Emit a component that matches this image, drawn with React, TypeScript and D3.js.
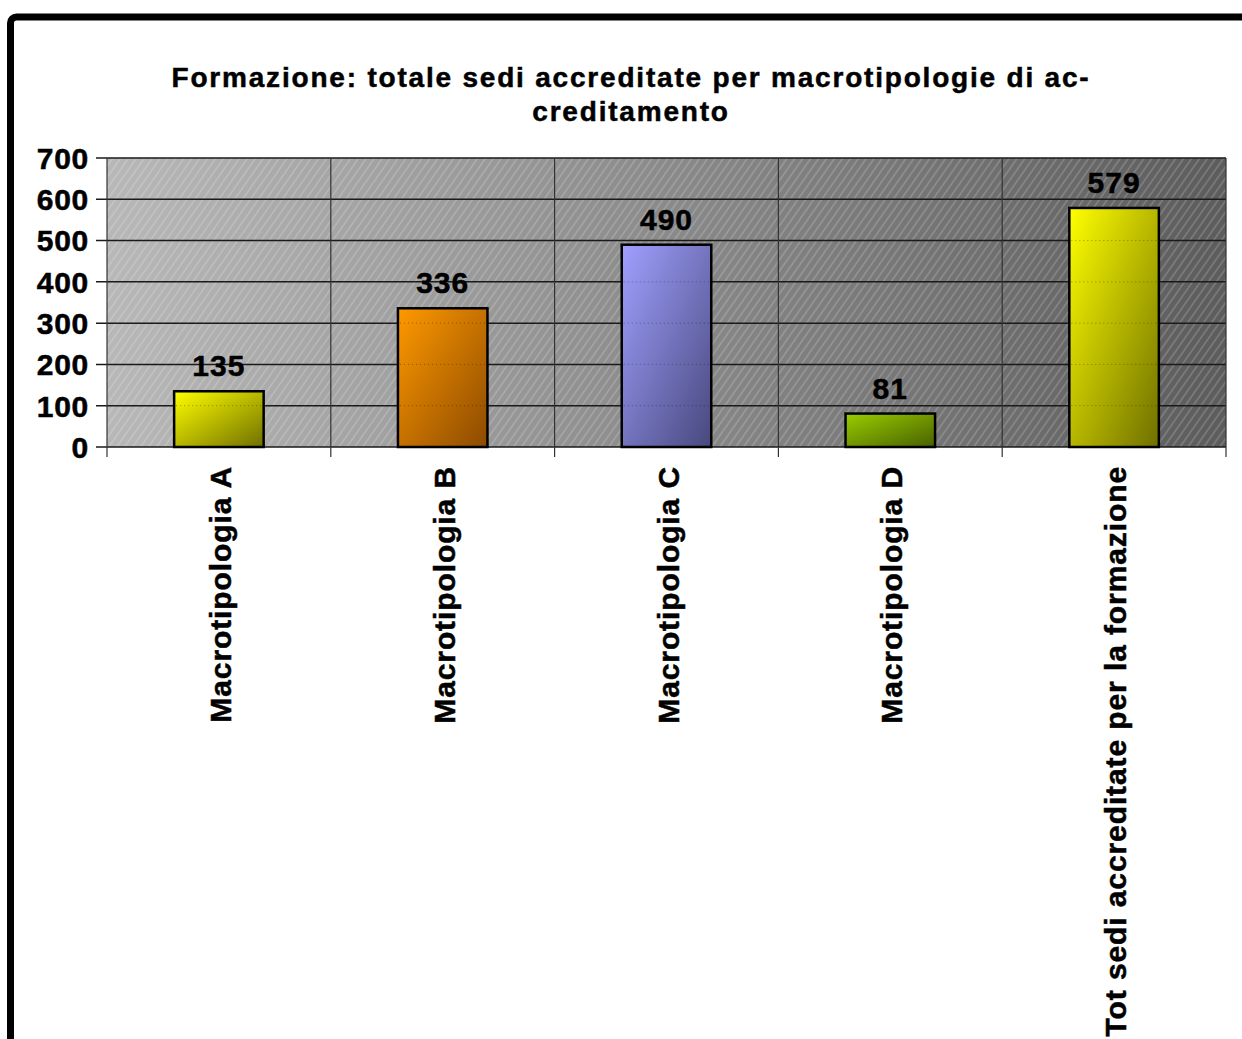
import * as d3 from 'd3';
import React from 'react';

const categories = [
    'Macrotipologia A',
    'Macrotipologia B',
    'Macrotipologia C',
    'Macrotipologia D',
    'Tot sedi accreditate per la formazione',
];
const values = [135, 336, 490, 81, 579];
const yTicks = [0, 100, 200, 300, 400, 500, 600, 700];
const titleLines = [
    'Formazione: totale sedi accreditate per macrotipologie di ac-',
    'creditamento',
];
// light / dark ends of each bar gradient
const barColours = [
    ['#ffff00', '#6f6f00'],
    ['#ff9900', '#8c4a00'],
    ['#a0a0ff', '#48487e'],
    ['#9acd00', '#486000'],
    ['#ffff00', '#6f6f00'],
];

const W = 1242;
const H = 1039;
const font = '"Liberation Sans", Arial, sans-serif';

const App = () => {
    const left = 107;
    const right = 1226;
    const top = 158;
    const bottom = 447;

    const x = d3.scaleBand<string>().domain(categories).range([left, right]).paddingInner(0.6).paddingOuter(0.3);
    const y = d3.scaleLinear().domain([0, 700]).range([bottom, top]);
    const step = x.step();
    const bounds = d3.range(categories.length + 1).map(i => left + i * step);

    // bold text, slightly thickened to match the heavier original rendering
    const txt = { fontWeight: 'bold', stroke: '#000000', strokeWidth: 0.5 } as const;

    return (
        <svg width={W} height={H} style={{ position: 'absolute', left: 0, top: 0 }} fontFamily={font}>
            <defs>
                <linearGradient id="plotBg" x1="0" y1="0" x2="1" y2="0">
                    <stop offset="0" stopColor="#b8b8b8" />
                    <stop offset="1" stopColor="#5c5c5c" />
                </linearGradient>
                <pattern id="hatch" width={6.5} height={10} patternUnits="userSpaceOnUse" patternTransform="rotate(35)">
                    <line x1={1} y1={0} x2={1} y2={10} stroke="#ffffff" strokeOpacity={0.3} strokeWidth={1} />
                </pattern>
                {barColours.map((c, i) => (
                    <linearGradient key={i} id={`bar${i}`} x1="0" y1="0" x2="1" y2="1">
                        <stop offset="0" stopColor={c[0]} />
                        <stop offset="1" stopColor={c[1]} />
                    </linearGradient>
                ))}
            </defs>

            {/* outer frame */}
            <rect x={10.5} y={17} width={1400} height={1200} rx={6} fill="#ffffff" stroke="#000000" strokeWidth={7} />

            {titleLines.map((t, i) => (
                <text key={i} x={631} y={87 + i * 34} textAnchor="middle" fontSize={28} letterSpacing={1.8} {...txt}>{t}</text>
            ))}

            {/* plot area */}
            <rect x={left} y={top} width={right - left} height={bottom - top} fill="url(#plotBg)" />
            <rect x={left} y={top} width={right - left} height={bottom - top} fill="url(#hatch)" />

            {yTicks.map(t => (
                <g key={t}>
                    <line x1={left - 11} x2={right} y1={y(t)} y2={y(t)} stroke="#1a1a1a" strokeWidth={1.5} />
                    <text x={89} y={y(t)} dy="0.36em" textAnchor="end" fontSize={30} letterSpacing={0.7} {...txt}>{t}</text>
                </g>
            ))}
            {bounds.map((b, i) => (
                <line key={i} x1={b} x2={b} y1={top} y2={bottom + 10} stroke="#333333" strokeWidth={1.2} />
            ))}

            {categories.map((c, i) => {
                const bx = x(c) as number;
                const bw = x.bandwidth();
                const cx = bx + bw / 2;
                return (
                    <g key={c}>
                        <rect x={bx} y={y(values[i])} width={bw} height={bottom - y(values[i])}
                            fill={`url(#bar${i})`} stroke="#000000" strokeWidth={2.5} />
                        {yTicks.filter(t => t > 0 && t < values[i]).map(t => (
                            <line key={t} x1={bx + 2} x2={bx + bw - 2} y1={y(t)} y2={y(t)}
                                stroke="#000000" strokeOpacity={0.35} strokeWidth={1} strokeDasharray="1,3" />
                        ))}
                        <text x={cx} y={y(values[i]) - 15} textAnchor="middle" fontSize={30} letterSpacing={1} {...txt}>{values[i]}</text>
                        <text transform={`translate(${cx + 12},${bottom + 19}) rotate(-90)`} textAnchor="end"
                            fontSize={30} letterSpacing={0.9} {...txt}>{c}</text>
                    </g>
                );
            })}
        </svg>
    );
};

export default App;
